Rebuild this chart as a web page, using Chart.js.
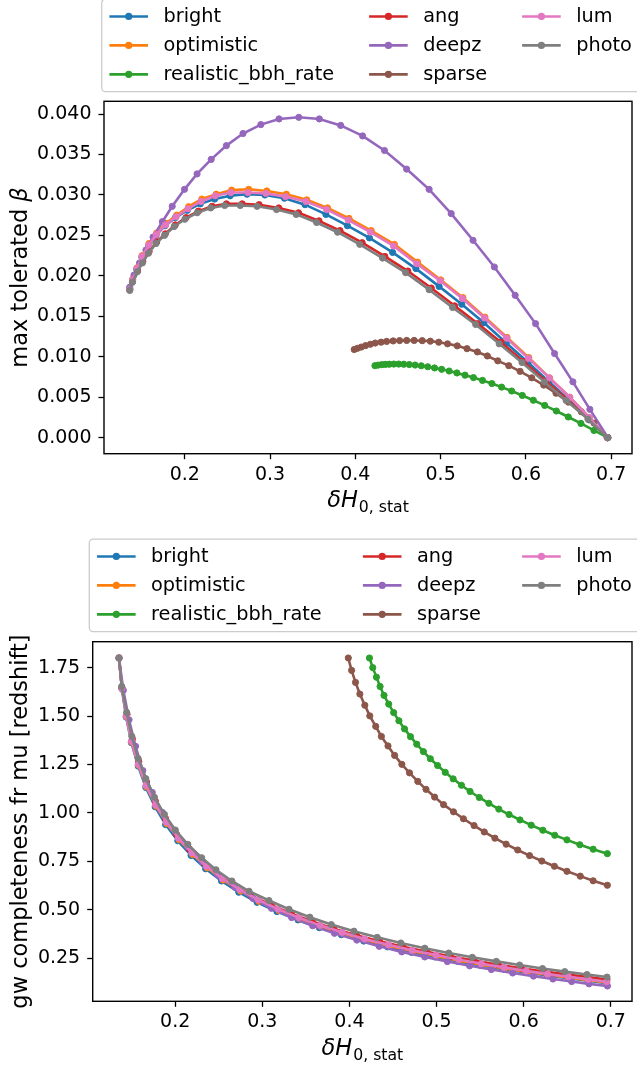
<!DOCTYPE html>
<html>
<head>
<meta charset="utf-8">
<script src="https://cdn.jsdelivr.net/npm/chart.js@4.4.1/dist/chart.umd.min.js"></script>
<style>
  html, body { margin: 0; padding: 0; background: #fff; }
  .panel { position: absolute; left: 0; }
  canvas { display: block; }
</style>
</head>
<body>
<div class="panel" style="top:0"><canvas id="topChart"></canvas></div>
<div class="panel" style="top:530px"><canvas id="bottomChart"></canvas></div>
<script>
// series, in the order they were plotted (legend is column-major)
const seriesNames  = ['bright', 'optimistic', 'realistic_bbh_rate', 'ang', 'deepz', 'sparse', 'lum', 'photo'];
const seriesColors = ['#1f77b4', '#ff7f0e', '#2ca02c', '#d62728', '#9467bd', '#8c564b', '#e377c2', '#7f7f7f'];

// delta H0 (stat) for each series -- shared by both panels
const dH_bright = [0.1355, 0.1388, 0.1437, 0.1497, 0.1575, 0.1663, 0.1770, 0.1890, 0.2030, 0.2182, 0.2350, 0.2532, 0.2730, 0.2940, 0.3168, 0.3410, 0.3655, 0.3907, 0.4165, 0.4437, 0.4710, 0.4982, 0.5248, 0.5508, 0.5770, 0.6026, 0.6272, 0.6510, 0.6740, 0.6953];
const dH_optimistic = [0.1355, 0.1390, 0.1440, 0.1500, 0.1580, 0.1670, 0.1780, 0.1905, 0.2045, 0.2200, 0.2368, 0.2550, 0.2750, 0.2962, 0.3191, 0.3430, 0.3674, 0.3927, 0.4186, 0.4458, 0.4729, 0.5002, 0.5262, 0.5520, 0.5779, 0.6034, 0.6277, 0.6515, 0.6743, 0.6953];
const dH_realistic = [0.4230, 0.4268, 0.4310, 0.4352, 0.4397, 0.4451, 0.4508, 0.4568, 0.4633, 0.4701, 0.4773, 0.4849, 0.4929, 0.5012, 0.5100, 0.5191, 0.5286, 0.5385, 0.5491, 0.5601, 0.5715, 0.5833, 0.5958, 0.6087, 0.6220, 0.6357, 0.6497, 0.6645, 0.6798, 0.6961];
const dH_ang = [0.1355, 0.1388, 0.1447, 0.1508, 0.1582, 0.1671, 0.1772, 0.1888, 0.2015, 0.2160, 0.2321, 0.2488, 0.2673, 0.2872, 0.3102, 0.3334, 0.3574, 0.3820, 0.4080, 0.4346, 0.4616, 0.4890, 0.5164, 0.5434, 0.5708, 0.5973, 0.6233, 0.6486, 0.6737, 0.6957];
const dH_deepz = [0.1355, 0.1405, 0.1470, 0.1545, 0.1628, 0.1737, 0.1853, 0.1997, 0.2144, 0.2310, 0.2488, 0.2683, 0.2892, 0.3105, 0.3337, 0.3578, 0.3828, 0.4085, 0.4342, 0.4601, 0.4865, 0.5124, 0.5380, 0.5630, 0.5874, 0.6113, 0.6336, 0.6551, 0.6750, 0.6962];
const dH_sparse = [0.3987, 0.4025, 0.4070, 0.4120, 0.4177, 0.4234, 0.4302, 0.4367, 0.4443, 0.4519, 0.4602, 0.4690, 0.4785, 0.4879, 0.4978, 0.5081, 0.5195, 0.5309, 0.5431, 0.5548, 0.5670, 0.5799, 0.5932, 0.6068, 0.6209, 0.6353, 0.6497, 0.6650, 0.6798, 0.6961];
const dH_lum = [0.1355, 0.1389, 0.1438, 0.1497, 0.1576, 0.1665, 0.1774, 0.1898, 0.2037, 0.2191, 0.2358, 0.2540, 0.2740, 0.2952, 0.3181, 0.3420, 0.3664, 0.3917, 0.4176, 0.4448, 0.4720, 0.4994, 0.5255, 0.5514, 0.5774, 0.6030, 0.6274, 0.6513, 0.6742, 0.6953];
const dH_photo = [0.1355, 0.1386, 0.1443, 0.1503, 0.1575, 0.1663, 0.1762, 0.1876, 0.2001, 0.2145, 0.2304, 0.2468, 0.2651, 0.2848, 0.3076, 0.3307, 0.3546, 0.3792, 0.4052, 0.4319, 0.4590, 0.4865, 0.5140, 0.5411, 0.5687, 0.5954, 0.6217, 0.6472, 0.6727, 0.6957];

// max tolerated beta (top panel)
const beta_bright = [0.0184, 0.0195, 0.0208, 0.0223, 0.0237, 0.0250, 0.0262, 0.0272, 0.0281, 0.0289, 0.0295, 0.0299, 0.0301, 0.0300, 0.0296, 0.0288, 0.0276, 0.0262, 0.0247, 0.0229, 0.0209, 0.0187, 0.0165, 0.0142, 0.0117, 0.0093, 0.0069, 0.0046, 0.0022, 0.0];
const beta_optimistic = [0.0184, 0.0196, 0.0210, 0.0225, 0.0240, 0.0253, 0.0265, 0.0275, 0.02855, 0.0295, 0.0301, 0.0306, 0.0307, 0.0305, 0.0301, 0.0294, 0.0284, 0.0271, 0.0256, 0.0239, 0.0217, 0.0195, 0.0173, 0.0149, 0.0124, 0.0099, 0.0074, 0.0050, 0.0025, 0.0];
const beta_realistic = [0.0089, 0.00897, 0.00903, 0.00906, 0.00908, 0.0091, 0.0091, 0.00908, 0.00904, 0.00898, 0.00889, 0.00877, 0.00862, 0.00845, 0.00824, 0.0080, 0.00773, 0.00743, 0.00708, 0.00669, 0.00625, 0.00577, 0.00522, 0.00463, 0.00399, 0.0033, 0.00256, 0.00176, 0.0009, 0.0];
const beta_ang = [0.0183, 0.0193, 0.0206, 0.0218, 0.0230, 0.0242, 0.0252, 0.0263, 0.0272, 0.0280, 0.0286, 0.0289, 0.0289, 0.0288, 0.0284, 0.0278, 0.0268, 0.0256, 0.0241, 0.0224, 0.0206, 0.0185, 0.0163, 0.0141, 0.0118, 0.0094, 0.0070, 0.0047, 0.0023, 0.0];
const beta_deepz = [0.0186, 0.0201, 0.0216, 0.0232, 0.0248, 0.0267, 0.0286, 0.0307, 0.0326, 0.0344, 0.0361, 0.0376, 0.0387, 0.0394, 0.0396, 0.0394, 0.0386, 0.0373, 0.0355, 0.0332, 0.0307, 0.0277, 0.0244, 0.0211, 0.0176, 0.0141, 0.0104, 0.0069, 0.0035, 0.0];
const beta_sparse = [0.0109, 0.01105, 0.0112, 0.01138, 0.01155, 0.0117, 0.01181, 0.0119, 0.01196, 0.0120, 0.01202, 0.01202, 0.01199, 0.01193, 0.0118, 0.0116, 0.01135, 0.0110, 0.0106, 0.0101, 0.0095, 0.0089, 0.0082, 0.0074, 0.0065, 0.0055, 0.0044, 0.0032, 0.0018, 0.0];
const beta_lum = [0.0183, 0.0195, 0.0209, 0.0224, 0.0238, 0.0251, 0.0263, 0.0273, 0.0283, 0.0292, 0.0299, 0.0303, 0.0303, 0.0302, 0.0298, 0.0292, 0.0282, 0.0269, 0.0254, 0.0237, 0.0215, 0.0194, 0.0172, 0.0148, 0.0123, 0.0098, 0.0074, 0.0050, 0.0025, 0.0];
const beta_photo = [0.0182, 0.0192, 0.0205, 0.0216, 0.0228, 0.0240, 0.0250, 0.0261, 0.0270, 0.0278, 0.0284, 0.0287, 0.0287, 0.0286, 0.0282, 0.0276, 0.0266, 0.0254, 0.0239, 0.0222, 0.0204, 0.0183, 0.0161, 0.0140, 0.0116, 0.0093, 0.0069, 0.0046, 0.0023, 0.0];

// gw completeness fr mu [redshift] (bottom panel)
const mu_bright = [1.800, 1.641, 1.495, 1.363, 1.242, 1.132, 1.032, 0.940, 0.857, 0.781, 0.712, 0.649, 0.591, 0.539, 0.491, 0.448, 0.408, 0.372, 0.339, 0.309, 0.281, 0.257, 0.234, 0.213, 0.194, 0.177, 0.161, 0.147, 0.134, 0.122];
const mu_optimistic = [1.800, 1.642, 1.497, 1.366, 1.246, 1.136, 1.036, 0.945, 0.862, 0.786, 0.717, 0.654, 0.597, 0.544, 0.496, 0.453, 0.413, 0.377, 0.344, 0.313, 0.286, 0.261, 0.238, 0.217, 0.198, 0.180, 0.165, 0.150, 0.137, 0.125];
const mu_realistic = [1.800, 1.750, 1.701, 1.653, 1.607, 1.562, 1.518, 1.476, 1.434, 1.394, 1.355, 1.317, 1.280, 1.245, 1.210, 1.176, 1.143, 1.111, 1.080, 1.050, 1.020, 0.992, 0.964, 0.937, 0.911, 0.885, 0.861, 0.836, 0.813, 0.790];
const mu_ang = [1.800, 1.648, 1.509, 1.382, 1.266, 1.159, 1.061, 0.972, 0.890, 0.815, 0.746, 0.683, 0.626, 0.573, 0.525, 0.480, 0.440, 0.403, 0.369, 0.338, 0.309, 0.283, 0.259, 0.238, 0.217, 0.199, 0.182, 0.167, 0.153, 0.140];
const mu_deepz = [1.800, 1.633, 1.481, 1.344, 1.219, 1.106, 1.003, 0.910, 0.826, 0.749, 0.680, 0.617, 0.559, 0.508, 0.460, 0.418, 0.379, 0.344, 0.312, 0.283, 0.257, 0.233, 0.211, 0.192, 0.174, 0.158, 0.143, 0.130, 0.118, 0.107];
const mu_sparse = [1.800, 1.736, 1.674, 1.614, 1.556, 1.501, 1.447, 1.395, 1.346, 1.297, 1.251, 1.207, 1.163, 1.122, 1.082, 1.043, 1.006, 0.970, 0.935, 0.902, 0.870, 0.839, 0.809, 0.780, 0.752, 0.725, 0.699, 0.674, 0.650, 0.627];
const mu_lum = [1.800, 1.644, 1.501, 1.370, 1.251, 1.143, 1.043, 0.953, 0.870, 0.794, 0.725, 0.662, 0.605, 0.552, 0.504, 0.460, 0.420, 0.384, 0.350, 0.320, 0.292, 0.267, 0.244, 0.222, 0.203, 0.185, 0.169, 0.155, 0.141, 0.129];
const mu_photo = [1.800, 1.653, 1.519, 1.395, 1.281, 1.177, 1.081, 0.993, 0.912, 0.838, 0.769, 0.707, 0.649, 0.596, 0.548, 0.503, 0.462, 0.424, 0.390, 0.358, 0.329, 0.302, 0.277, 0.255, 0.234, 0.215, 0.197, 0.181, 0.166, 0.153];

// tick labels
const dHTicks   = [0.2, 0.3, 0.4, 0.5, 0.6, 0.7];
const betaTicks = [0.000, 0.005, 0.010, 0.015, 0.020, 0.025, 0.030, 0.035, 0.040];
const muTicks   = [0.25, 0.50, 0.75, 1.00, 1.25, 1.50, 1.75];

const dHAll   = [dH_bright, dH_optimistic, dH_realistic, dH_ang, dH_deepz, dH_sparse, dH_lum, dH_photo];
const betaAll = [beta_bright, beta_optimistic, beta_realistic, beta_ang, beta_deepz, beta_sparse, beta_lum, beta_photo];
const muAll   = [mu_bright, mu_optimistic, mu_realistic, mu_ang, mu_deepz, mu_sparse, mu_lum, mu_photo];

const FONT = '"DejaVu Sans", "Liberation Sans", sans-serif';
const TICK_FS = 19;
const LEG_FS = 19.3;
const LABEL_FS = 22.5;

function makeDatasets(yAll) {
  return seriesNames.map((name, k) => ({
    label: name,
    data: dHAll[k].map((x, i) => ({ x: x, y: yAll[k][i] })),
    borderColor: seriesColors[k],
    backgroundColor: seriesColors[k],
    pointBackgroundColor: seriesColors[k],
    pointBorderColor: seriesColors[k],
    borderWidth: 2.6,
    pointRadius: 3.1,
    pointBorderWidth: 1,
    tension: 0,
    fill: false,
    order: seriesNames.length - 1 - k   // later series on top, like matplotlib
  }));
}

// matplotlib-style legend: 3 rows, column-major, columns spread over the box width
function legendPlugin(boxLeft, boxRight, boxBottom) {
  return {
    id: 'mplLegend',
    afterDraw(chart) {
      const ctx = chart.ctx;
      const fs = LEG_FS;
      const pad = 0.4 * fs, hl = 2 * fs, htp = 0.8 * fs, rowH = fs, ls = 0.5 * fs;
      const nrows = 3;
      const ds = chart.data.datasets;
      ctx.save();
      ctx.font = fs + 'px ' + FONT;
      const cols = [];
      for (let c = 0; c * nrows < ds.length; c++) cols.push(ds.slice(c * nrows, c * nrows + nrows));
      const colW = cols.map(col => hl + htp + Math.max(...col.map(d => ctx.measureText(d.label).width)));
      const w = boxRight - boxLeft;
      const sep = (w - 2 * pad - colW.reduce((a, b) => a + b, 0)) / (cols.length - 1);
      const h = 2 * pad + nrows * rowH + (nrows - 1) * ls;
      const top = boxBottom - h;

      ctx.beginPath();
      ctx.roundRect(boxLeft, top, w, h, 0.2 * fs);
      ctx.fillStyle = 'rgba(255,255,255,0.8)';
      ctx.fill();
      ctx.lineWidth = 1.3;
      ctx.strokeStyle = '#cccccc';
      ctx.stroke();

      let x = boxLeft + pad;
      cols.forEach((col, c) => {
        col.forEach((d, r) => {
          const cy = top + pad + r * (rowH + ls) + rowH / 2;
          ctx.strokeStyle = d.borderColor;
          ctx.lineWidth = 2.6;
          ctx.beginPath();
          ctx.moveTo(x, cy);
          ctx.lineTo(x + hl, cy);
          ctx.stroke();
          ctx.fillStyle = d.borderColor;
          ctx.beginPath();
          ctx.arc(x + hl / 2, cy, 3.6, 0, 2 * Math.PI);
          ctx.fill();
          ctx.fillStyle = '#000';
          ctx.textBaseline = 'middle';
          ctx.textAlign = 'left';
          ctx.fillText(d.label, x + hl + htp, cy + 1);
        });
        x += colW[c] + sep;
      });
      ctx.restore();
    }
  };
}

// full box around the axes, like matplotlib spines
const framePlugin = {
  id: 'frame',
  afterDraw(chart) {
    const a = chart.chartArea, ctx = chart.ctx;
    ctx.save();
    ctx.strokeStyle = '#000';
    ctx.lineWidth = 1.4;
    ctx.strokeRect(a.left, a.top, a.right - a.left, a.bottom - a.top);
    ctx.restore();
  }
};

// axis titles with mathtext-like pieces
function titlesPlugin(yParts, yTitleX, xTitleBase) {
  return {
    id: 'titles',
    afterDraw(chart) {
      const ctx = chart.ctx, a = chart.chartArea;
      ctx.save();
      ctx.fillStyle = '#000';
      ctx.textBaseline = 'alphabetic';
      ctx.textAlign = 'left';
      // x title: delta H_{0, stat}
      const big = 'italic ' + LABEL_FS + 'px ' + FONT;
      const sub = (LABEL_FS * 0.7).toFixed(1) + 'px ' + FONT;
      ctx.font = big; const w1 = ctx.measureText('δH').width;
      ctx.font = sub; const w2 = ctx.measureText('0, stat').width;
      let x0 = (a.left + a.right) / 2 - (w1 + 1 + w2) / 2;
      ctx.font = big; ctx.fillText('δH', x0, xTitleBase);
      ctx.font = sub; ctx.fillText('0, stat', x0 + w1 + 1, xTitleBase + 4.5);

      // y title, rotated
      ctx.translate(yTitleX, (a.top + a.bottom) / 2);
      ctx.rotate(-Math.PI / 2);
      const widths = yParts.map(p => { ctx.font = p[1] + LABEL_FS + 'px ' + FONT; return ctx.measureText(p[0]).width; });
      let tx = -widths.reduce((s, v) => s + v, 0) / 2;
      yParts.forEach((p, i) => {
        ctx.font = p[1] + LABEL_FS + 'px ' + FONT;
        ctx.fillText(p[0], tx, 0);
        tx += widths[i];
      });
      ctx.restore();
    }
  };
}

function axisOptions(ticks, min, max, digits, fixSize, isX) {
  return {
    type: 'linear',
    min: min,
    max: max,
    afterBuildTicks: s => { s.ticks = ticks.map(v => ({ value: v })); },
    afterFit: s => { if (isX) s.height = fixSize; else s.width = fixSize; },
    ticks: {
      callback: v => v.toFixed(digits),
      font: { family: FONT, size: TICK_FS },
      color: '#000',
      padding: isX ? 4 : 7,
      maxRotation: 0,
      autoSkip: false
    },
    grid: { display: true, drawOnChartArea: false, drawTicks: true, tickLength: 5.5, tickWidth: 1.3, color: '#000' },
    border: { display: false }
  };
}

function buildChart(id, w, h, yAll, pad, xSize, ySize, yTicks, yMin, yMax, yDigits, leg, yParts, xTitleBase) {
  const cv = document.getElementById(id);
  cv.width = w;
  cv.height = h;
  return new Chart(cv, {
    type: 'line',
    data: { datasets: makeDatasets(yAll) },
    options: {
      animation: false,
      responsive: false,
      devicePixelRatio: 1,
      layout: { padding: pad },
      plugins: { legend: { display: false }, tooltip: { enabled: false } },
      scales: {
        x: axisOptions(dHTicks, 0.1053, 0.7244, 1, xSize, true),
        y: axisOptions(yTicks, yMin, yMax, yDigits, ySize, false)
      }
    },
    plugins: [framePlugin, legendPlugin(leg[0], leg[1], leg[2]), titlesPlugin(yParts, 27, xTitleBase)]
  });
}

buildChart('topChart', 637, 530, betaAll,
  { top: 101.3, right: 1, left: 0, bottom: 0 }, 76.3, 104,
  betaTicks, -0.00198, 0.04158, 3,
  [101.7, 639.5, 91.7],
  [['max tolerated ', ''], ['β', 'italic ']], 507.4);

buildChart('bottomChart', 637, 535, muAll,
  { top: 111.7, right: 1, left: 0, bottom: 0 }, 63.7, 92.7,
  muTicks, 0.028, 1.884, 2,
  [89.3, 639.5, 101.7],
  [['gw completeness fr mu [redshift]', '']], 525);
</script>
</body>
</html>
